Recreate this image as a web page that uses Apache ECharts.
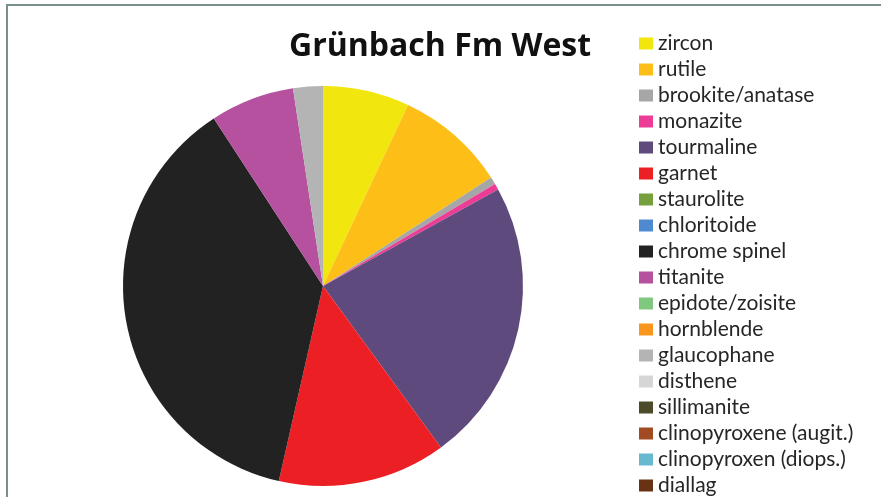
<!DOCTYPE html>
<html>
<head>
<meta charset="utf-8">
<script src="https://cdn.jsdelivr.net/npm/echarts@6/dist/echarts.min.js"></script>
<style>
  html, body { margin: 0; padding: 0; background: #ffffff; }
  #chart { width: 881px; height: 497px; }
</style>
</head>
<body>
<div id="chart"></div>
<script>
// Heavy-mineral spectrum, Grünbach Fm West (percent of grains)
const minerals = [
  'zircon', 'rutile', 'brookite/anatase', 'monazite', 'tourmaline', 'garnet',
  'staurolite', 'chloritoide', 'chrome spinel', 'titanite', 'epidote/zoisite',
  'hornblende', 'glaucophane', 'disthene', 'sillimanite',
  'clinopyroxene (augit.)', 'clinopyroxen (diops.)', 'diallag'
];
const percents = [
  7.0, 8.9, 0.6, 0.5, 23.0, 13.6,
  0, 0, 37.3, 6.8, 0,
  0, 2.4, 0, 0,
  0, 0, 0
];
const colors = [
  '#f1e70f', '#fcbe17', '#a6a6a6', '#ec3c96', '#5e4a7c', '#ec2024',
  '#76a03e', '#4f8ad0', '#222222', '#b5519e', '#80c880',
  '#f8961e', '#b4b4b4', '#d6d6d6', '#4b4a2b',
  '#a14b22', '#68b8d0', '#6a3215'
];
const chartTitle = 'Grünbach Fm West';

const chart = echarts.init(document.getElementById('chart'), null, { renderer: 'canvas' });

chart.setOption({
  animation: false,
  backgroundColor: '#ffffff',
  color: colors,
  title: {
    text: chartTitle,
    left: 289,
    top: 31,
    padding: 0,
    textStyle: {
      fontFamily: 'Open Sans',
      fontWeight: 'bold',
      fontSize: 32,
      color: '#111111'
    }
  },
  legend: {
    orient: 'vertical',
    left: 639,
    top: 33,
    height: 600,
    padding: 0,
    icon: 'rect',
    itemWidth: 14,
    itemHeight: 12,
    itemGap: 5,
    selectedMode: false,
    textStyle: {
      fontFamily: 'Lato',
      fontSize: 21,
      lineHeight: 20,
      color: '#262626'
    },
    data: minerals
  },
  graphic: [{
    type: 'rect',
    shape: { x: 7, y: 5, width: 900, height: 520 },
    style: { fill: 'none', stroke: '#7b8e8e', lineWidth: 2 },
    silent: true
  }],
  series: [{
    type: 'pie',
    center: [323, 286],
    radius: 200,
    startAngle: 90,
    clockwise: true,
    label: { show: false },
    labelLine: { show: false },
    itemStyle: { borderWidth: 0 },
    emphasis: { disabled: true },
    data: minerals.map((name, i) => ({ name, value: percents[i] }))
  }]
});
</script>
</body>
</html>
